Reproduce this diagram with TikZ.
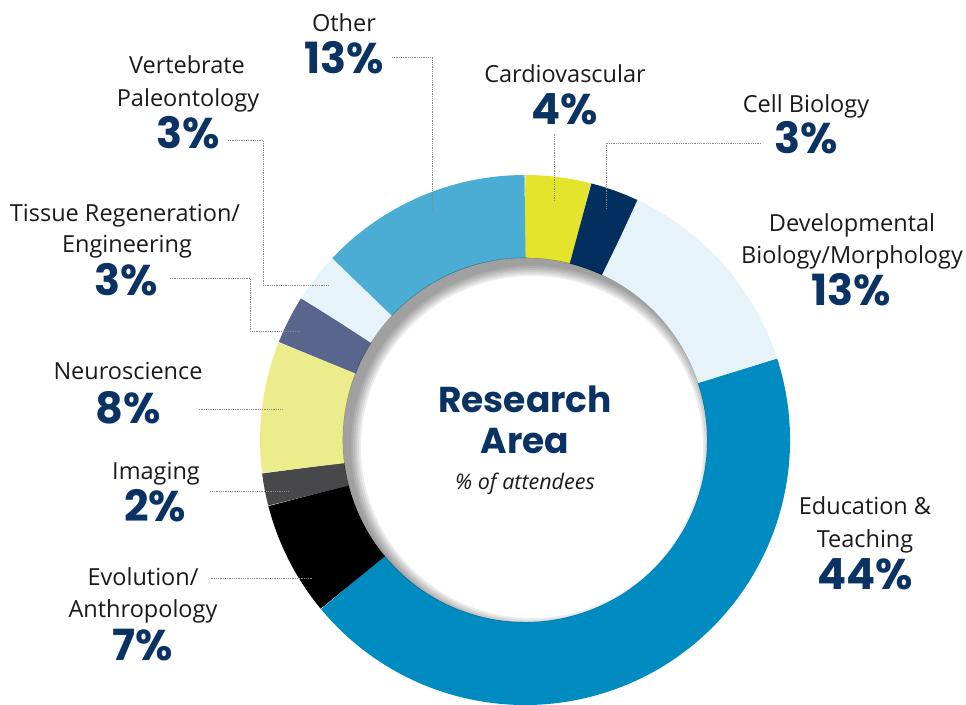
\documentclass[tikz,border=0pt]{standalone}
\usepackage{fontspec}
\setmainfont{Open Sans}
\newfontfamily\pctfont{Poppins}
\definecolor{cardio}{HTML}{E3E42B}
\definecolor{cellbio}{HTML}{032F5E}
\definecolor{devbio}{HTML}{E6F4FA}
\definecolor{edu}{HTML}{008BC1}
\definecolor{evo}{HTML}{000000}
\definecolor{imaging}{HTML}{48484A}
\definecolor{neuro}{HTML}{EDEC8D}
\definecolor{tissue}{HTML}{58668E}
\definecolor{vert}{HTML}{E6F4FA}
\definecolor{other}{HTML}{4BADD4}
\definecolor{navy}{HTML}{0A3363}
\definecolor{ink}{HTML}{1A1A1A}
\definecolor{leadgray}{HTML}{8A8A8A}
\begin{document}
\begin{tikzpicture}[x=1pt,y=-1pt]
            \tikzstyle{every node}+=[inner sep=0pt]
            \tikzstyle{lbl}=[anchor=base, text=ink, font=\fontsize{23.5}{28}\selectfont]
            \tikzstyle{pct}=[anchor=base, text=navy, font=\pctfont\bfseries\fontsize{43}{48}\selectfont]
            \tikzstyle{ttl}=[anchor=base, text=navy, font=\pctfont\bfseries\fontsize{36}{40}\selectfont]
            \tikzstyle{sub}=[anchor=base, text=ink, font=\itshape\fontsize{21.5}{26}\selectfont]
            \tikzstyle{seg}=[line width=83pt]
            \tikzstyle{leader}=[densely dotted, line width=0.8pt, leadgray]
            \useasboundingbox (0,0) rectangle (966,704);
            \coordinate (ctr) at (525,440);
            % ring, clockwise from the top
            \draw [seg, cardio] (ctr) ++(-90:223.5) arc[start angle=-90, end angle=-75.6, radius=223.5];
            \draw [seg, cellbio] (ctr) ++(-75.6:223.5) arc[start angle=-75.6, end angle=-64.8, radius=223.5];
            \draw [seg, devbio] (ctr) ++(-64.8:223.5) arc[start angle=-64.8, end angle=-18, radius=223.5];
            \draw [seg, edu] (ctr) ++(-18:223.5) arc[start angle=-18, end angle=140.4, radius=223.5];
            \draw [seg, evo] (ctr) ++(140.4:223.5) arc[start angle=140.4, end angle=165.6, radius=223.5];
            \draw [seg, imaging] (ctr) ++(165.6:223.5) arc[start angle=165.6, end angle=172.8, radius=223.5];
            \draw [seg, neuro] (ctr) ++(172.8:223.5) arc[start angle=172.8, end angle=201.6, radius=223.5];
            \draw [seg, tissue] (ctr) ++(201.6:223.5) arc[start angle=201.6, end angle=212.4, radius=223.5];
            \draw [seg, vert] (ctr) ++(212.4:223.5) arc[start angle=212.4, end angle=223.2, radius=223.5];
            \draw [seg, other] (ctr) ++(223.2:223.5) arc[start angle=223.2, end angle=270, radius=223.5];
            % soft shadow inside the hole
            \begin{scope}
            \clip (ctr) circle[radius=182.3];
            \fill [black, opacity=0.075, even odd rule] (ctr) circle[radius=190] ([shift={(7,7)}]ctr) circle[radius=181];
            \fill [black, opacity=0.075, even odd rule] (ctr) circle[radius=190] ([shift={(7,7)}]ctr) circle[radius=179];
            \fill [black, opacity=0.075, even odd rule] (ctr) circle[radius=190] ([shift={(7,7)}]ctr) circle[radius=177];
            \fill [black, opacity=0.075, even odd rule] (ctr) circle[radius=190] ([shift={(7,7)}]ctr) circle[radius=175];
            \fill [black, opacity=0.075, even odd rule] (ctr) circle[radius=190] ([shift={(7,7)}]ctr) circle[radius=173];
            \fill [black, opacity=0.075, even odd rule] (ctr) circle[radius=190] ([shift={(7,7)}]ctr) circle[radius=171];
            \end{scope}
            % centre title
            \node [ttl] (ttl1) at (525,412) {Research};
            \node [ttl] (ttl2) at (525,453) {Area};
            \node [sub] (sub) at (525,489) {\% of attendees};
            % labels
            \node [lbl] (othN) at (344,31) {Other};
            \node [pct] (othP) at (344,73) {13\%};
            \node [lbl] (verN1) at (187,73) {Vertebrate};
            \node [lbl] (verN2) at (188,106) {Paleontology};
            \node [pct] (verP) at (188,148) {3\%};
            \node [lbl] (tisN1) at (125,221) {Tissue Regeneration/};
            \node [lbl] (tisN2) at (127,252) {Engineering};
            \node [pct] (tisP) at (126,295) {3\%};
            \node [lbl] (cardN) at (565,82) {Cardiovascular};
            \node [pct] (cardP) at (565,124) {4\%};
            \node [lbl] (cellN) at (806,112) {Cell Biology};
            \node [pct] (cellP) at (806,153) {3\%};
            \node [lbl] (devN1) at (852,231) {Developmental};
            \node [lbl] (devN2) at (852,263) {Biology/Morphology};
            \node [pct] (devP) at (851,305) {13\%};
            \node [lbl] (eduN1) at (865,514) {Education \&};
            \node [lbl] (eduN2) at (865,547) {Teaching};
            \node [pct] (eduP) at (865,589) {44\%};
            \node [lbl] (neuN) at (128,379) {Neuroscience};
            \node [pct] (neuP) at (128,423) {8\%};
            \node [lbl] (imgN) at (156,479) {Imaging};
            \node [pct] (imgP) at (155,521) {2\%};
            \node [lbl] (evoN1) at (143,585) {Evolution/};
            \node [lbl] (evoN2) at (143,617) {Anthropology};
            \node [pct] (evoP) at (143,660) {7\%};
            % leader lines
            \coordinate (othK) at (432,57);
            \coordinate (othE) at (432,210);
            \draw [leader, shorten <=8pt] (othK -| othP.east) -- (othK) -- (othE);
            \coordinate (verK) at (263,140);
            \coordinate (verE) at (329,285);
            \draw [leader, shorten <=8pt] (verK -| verP.east) -- (verK) |- (verE);
            \coordinate (tisK) at (250,278);
            \coordinate (tisE) at (300,331);
            \draw [leader, shorten <=12pt] (tisK -| tisP.east) -- (tisK) |- (tisE);
            \coordinate (cardE) at (554,202);
            \draw [leader, shorten <=9pt] (cardE |- cardP.south) -- (cardE);
            \coordinate (cellK) at (606,143);
            \coordinate (cellE) at (606,209);
            \draw [leader, shorten <=13pt] (cellK -| cellP.west) -- (cellK) -- (cellE);
            \coordinate (neuE) at (283,409);
            \draw [leader, shorten <=38pt] (neuE -| neuP.east) -- (neuE);
            \coordinate (imgE) at (289,491);
            \draw [leader, shorten <=24pt] (imgE -| imgP.east) -- (imgE);
            \coordinate (evoE) at (313,578);
            \draw [leader, shorten <=12pt] (evoE -| evoN1.east) -- (evoE);
\end{tikzpicture}
\end{document}
